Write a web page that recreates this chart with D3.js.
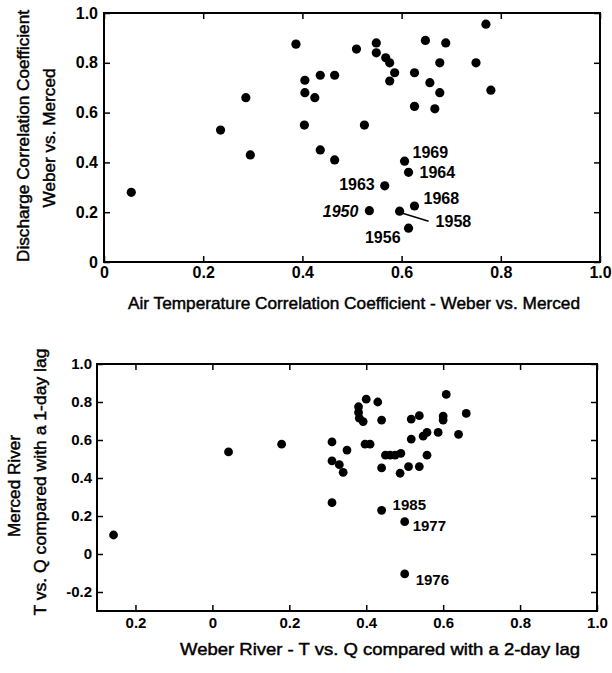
<!DOCTYPE html>
<html lang="en">
<head>
  <meta charset="UTF-8">
  <title>Weber vs. Merced correlations</title>
  <script src="https://d3js.org/d3.v7.min.js"></script>
  <style>
    body {
      margin: 0;
      background: #fff;
      font-family: "Liberation Sans", Arial, Helvetica, sans-serif;
    }
    .tick text {
      font-family: "Liberation Sans", Arial, sans-serif;
      font-weight: bold;
      fill: #000;
    }
    .tick line {
      stroke: #000;
      stroke-width: 1.5;
    }
    .domain {
      display: none;
    }
    .title {
      font-size: 17px;
      fill: #000;
      stroke: #000;
      stroke-width: 0.45;
    }
    .year {
      font-weight: bold;
      fill: #000;
    }
  </style>
</head>
<body>
  <div id="chart"></div>

  <script type="text/javascript">
    // Top panel: air temperature vs discharge correlation (Weber vs. Merced)
    var topAirTemp = [0.055, 0.235, 0.286, 0.295, 0.387, 0.405, 0.405, 0.404, 0.425, 0.436, 0.436,
      0.465, 0.465, 0.509, 0.525, 0.549, 0.549, 0.568, 0.576, 0.586, 0.576, 0.626, 0.626,
      0.648, 0.657, 0.689, 0.677, 0.677, 0.667, 0.75, 0.77, 0.78];
    var topDischarge = [0.28, 0.53, 0.66, 0.43, 0.875, 0.73, 0.68, 0.55, 0.66, 0.75, 0.45,
      0.75, 0.41, 0.855, 0.55, 0.88, 0.84, 0.82, 0.80, 0.76, 0.727, 0.76, 0.625,
      0.89, 0.72, 0.88, 0.80, 0.68, 0.615, 0.80, 0.955, 0.69];

    // labelled years in the top panel
    var topYears = ["1969", "1964", "1963", "1968", "1950", "1958", "1956"];
    var topYearAirTemp = [0.606, 0.614, 0.566, 0.626, 0.535, 0.596, 0.614];
    var topYearDischarge = [0.405, 0.36, 0.306, 0.225, 0.206, 0.204, 0.136];

    var topXTicks = [0, 0.2, 0.4, 0.6, 0.8, 1.0];
    var topXLabels = ["0", "0.2", "0.4", "0.6", "0.8", "1.0"];
    var topYTicks = [0, 0.2, 0.4, 0.6, 0.8, 1.0];
    var topYLabels = ["0", "0.2", "0.4", "0.6", "0.8", "1.0"];

    // Bottom panel: T vs. Q lag correlations
    var weberLag2 = [-0.257, 0.042, 0.18, 0.311, 0.311, 0.33, 0.34, 0.35, 0.311, 0.38, 0.38,
      0.382, 0.392, 0.40, 0.397, 0.41, 0.43, 0.44, 0.44, 0.45, 0.462, 0.475, 0.49, 0.488,
      0.51, 0.517, 0.517, 0.538, 0.538, 0.548, 0.558, 0.558, 0.587, 0.60, 0.60, 0.608, 0.64, 0.66];
    var mercedLag1 = [0.10, 0.537, 0.578, 0.59, 0.49, 0.47, 0.43, 0.547, 0.27, 0.775, 0.745,
      0.715, 0.697, 0.815, 0.578, 0.578, 0.80, 0.705, 0.453, 0.52, 0.52, 0.52, 0.53, 0.425,
      0.46, 0.605, 0.71, 0.728, 0.46, 0.62, 0.64, 0.52, 0.64, 0.726, 0.705, 0.84, 0.63, 0.74];

    var bottomYears = ["1985", "1977", "1976"];
    var bottomYearWeber = [0.44, 0.50, 0.50];
    var bottomYearMerced = [0.23, 0.17, -0.105];

    var bottomXTicks = [-0.2, 0, 0.2, 0.4, 0.6, 0.8, 1.0];
    var bottomXLabels = ["0.2", "0", "0.2", "0.4", "0.6", "0.8", "1.0"];
    var bottomYTicks = [-0.2, 0, 0.2, 0.4, 0.6, 0.8, 1.0];
    var bottomYLabels = ["-0.2", "0", "0.2", "0.4", "0.6", "0.8", "1.0"];

    var svg = d3.select("#chart")
      .append("svg")
      .attr("width", 612)
      .attr("height", 673);

    function zip(a, b) {
      return a.map(function(v, i) { return [v, b[i]]; });
    }

    function drawPanel(opt) {
      var x = d3.scaleLinear().domain(opt.xDomain).range([opt.left, opt.right]);
      var y = d3.scaleLinear().domain(opt.yDomain).range([opt.bottom, opt.top]);
      var fmt = function(ticks, labels) {
        return function(d) { return labels[ticks.indexOf(d)]; };
      };

      svg.append("g")
        .attr("transform", "translate(0," + opt.bottom + ")")
        .style("font-size", opt.tickFont + "px")
        .call(d3.axisBottom(x).tickValues(opt.xTicks).tickSize(-6).tickPadding(opt.xPad)
          .tickFormat(fmt(opt.xTicks, opt.xLabels)));
      svg.append("g")
        .attr("transform", "translate(0," + opt.top + ")")
        .call(d3.axisTop(x).tickValues(opt.xTicks).tickSize(-6).tickFormat(""));
      svg.append("g")
        .attr("transform", "translate(" + opt.left + ",0)")
        .style("font-size", opt.tickFont + "px")
        .call(d3.axisLeft(y).tickValues(opt.yTicks).tickSize(-6).tickPadding(opt.yPad)
          .tickFormat(fmt(opt.yTicks, opt.yLabels)));
      svg.append("g")
        .attr("transform", "translate(" + opt.right + ",0)")
        .call(d3.axisRight(y).tickValues(opt.yTicks).tickSize(-6).tickFormat(""));

      svg.append("rect")
        .attr("x", opt.left)
        .attr("y", opt.top)
        .attr("width", opt.right - opt.left)
        .attr("height", opt.bottom - opt.top)
        .attr("fill", "none")
        .attr("stroke", "#000")
        .attr("stroke-width", 2);

      svg.append("g").selectAll("circle")
        .data(opt.points.concat(opt.labelPoints))
        .enter()
        .append("circle")
        .attr("cx", function(d) { return x(d[0]); })
        .attr("cy", function(d) { return y(d[1]); })
        .attr("r", opt.r)
        .attr("fill", "#000");

      opt.labelPoints.forEach(function(d, i) {
        var p = opt.labelPos[i];
        svg.append("text")
          .attr("class", "year")
          .attr("x", x(d[0]) + p[0])
          .attr("y", y(d[1]) + p[1])
          .attr("text-anchor", p[2] || "start")
          .style("font-size", opt.labelFont + "px")
          .style("font-style", p[3] || "normal")
          .text(opt.labels[i]);
        if (p[4]) {
          svg.append("line")
            .attr("x1", x(d[0]) + p[4][0])
            .attr("y1", y(d[1]) + p[4][1])
            .attr("x2", x(d[0]) + p[4][2])
            .attr("y2", y(d[1]) + p[4][3])
            .attr("stroke", "#000")
            .attr("stroke-width", 1.5);
        }
      });

      svg.append("text")
        .attr("class", "title")
        .attr("x", opt.xTitle[1])
        .attr("y", opt.xTitle[2])
        .attr("text-anchor", "middle")
        .attr("textLength", opt.xTitle[3])
        .attr("lengthAdjust", "spacingAndGlyphs")
        .text(opt.xTitle[0]);

      opt.yTitle.forEach(function(t) {
        svg.append("text")
          .attr("class", "title")
          .attr("transform", "translate(" + t[1] + "," + t[2] + ") rotate(-90)")
          .attr("text-anchor", "middle")
          .attr("textLength", t[3])
          .attr("lengthAdjust", "spacingAndGlyphs")
          .text(t[0]);
      });
    }

    drawPanel({
      left: 104, right: 600, top: 13, bottom: 262,
      xDomain: [0, 1], yDomain: [0, 1],
      xTicks: topXTicks, xLabels: topXLabels,
      yTicks: topYTicks, yLabels: topYLabels,
      xPad: 5, yPad: 6, tickFont: 16, labelFont: 16, r: 4.6,
      points: zip(topAirTemp, topDischarge),
      labelPoints: zip(topYearAirTemp, topYearDischarge),
      labels: topYears,
      labelPos: [
        [8, -3], [11, 6], [-10, 4, "end"], [9, -2],
        [-11, 6, "end", "italic"], [36, 16, "start", "normal", [3, 2, 29, 10]],
        [-8, 15, "end"]
      ],
      xTitle: ["Air Temperature Correlation Coefficient - Weber vs. Merced", 354, 309, 452],
      yTitle: [
        ["Discharge Correlation Coefficient", 29, 136, 252],
        ["Weber vs. Merced", 55, 138, 139]
      ]
    });

    drawPanel({
      left: 97, right: 597, top: 364, bottom: 611,
      xDomain: [-0.3, 1], yDomain: [-0.3, 1],
      xTicks: bottomXTicks, xLabels: bottomXLabels,
      yTicks: bottomYTicks, yLabels: bottomYLabels,
      xPad: 6, yPad: 5, tickFont: 15, labelFont: 15, r: 4.4,
      points: zip(weberLag2, mercedLag1),
      labelPoints: zip(bottomYearWeber, bottomYearMerced),
      labels: bottomYears,
      labelPos: [[11, 0], [8, 9], [11, 11]],
      xTitle: ["Weber River - T vs. Q compared with a 2-day lag", 380, 655, 400],
      yTitle: [
        ["Merced River", 20, 486, 102],
        ["T vs. Q compared with a 1-day lag", 46, 482, 267]
      ]
    });
  </script>
</body>
</html>
